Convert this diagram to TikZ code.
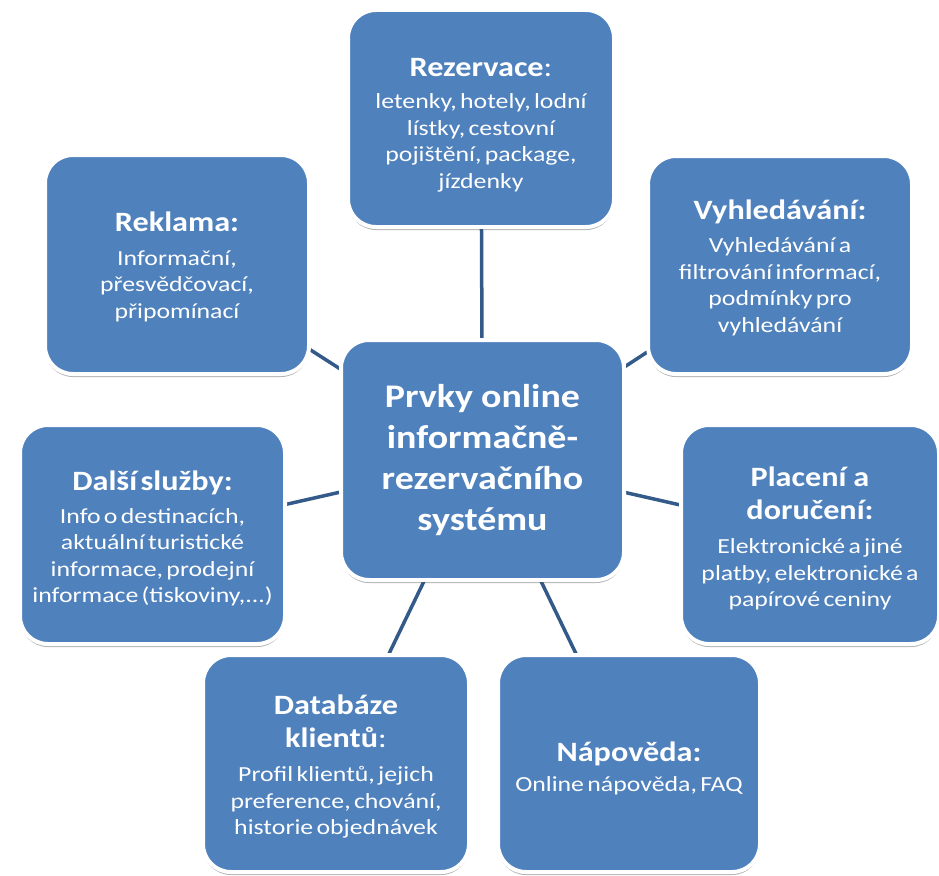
\documentclass[tikz,border=0pt]{standalone}
\usepackage{fontspec}
\newfontfamily\cfont[FakeStretch=1.15, BoldFeatures={WordSpace=2.5}]{Carlito}
\newfontfamily\cbody[FakeStretch=1.2]{Carlito}
\usetikzlibrary{shadows,backgrounds}
\definecolor{boxblue}{RGB}{79,129,189}
\definecolor{linkblue}{RGB}{52,90,138}
\newcommand\hdf{\cfont\fontsize{28}{33}\selectfont\bfseries}
\newcommand\bdf{\cbody\fontsize{21.5}{26.5}\selectfont}
\newcommand\ctf{\cfont\fontsize{33}{41}\selectfont\bfseries}
\begin{document}
\begin{tikzpicture}[x=1pt,y=-1pt,
  box/.style={draw=white, line width=4pt, fill=boxblue, rounded corners=28pt,
    text=white, align=center, text width=250pt, inner sep=0pt, font=\cfont,
    drop shadow={shadow xshift=0pt, shadow yshift=-3pt, opacity=0.3, fill=black}},
  conn/.style={draw=linkblue, line width=3.5pt}]
\useasboundingbox (0,0) rectangle (939,875);

\node[box, minimum width=283pt, minimum height=240pt] (c) at (482.5,460)
  {\ctf Prvky\hspace{8pt}online\\informačně-\\rezervačního\\systému\par};

\node[box, minimum width=266pt, minimum height=217pt] (rez) at (481,118.5)
  {{\hdf Rezervace\mdseries:\par}\vspace{6pt}{\bdf letenky, hotely, lodní\\lístky, cestovní\\pojištění, package,\\jízdenky\par}\vspace{-13pt}};

\node[box, minimum width=264pt, minimum height=219pt] (rek) at (177,264.5)
  {{\hdf Reklama:\par}\vspace{7.5pt}{\bdf Informační,\\přesvědčovací,\\připomínací\par}\vspace{-4pt}};

\node[box, minimum width=264pt, minimum height=218pt] (vyh) at (780,265)
  {{\hdf Vyhledávání:\par}\vspace{6.5pt}{\bdf Vyhledávání a\\filtrování informací,\\podmínky pro\\vyhledávání\par}\vspace{-6pt}};

\node[box, minimum width=265pt, minimum height=219pt] (dal) at (152.5,534.5)
  {{\hdf Další služby:\par}\vspace{6.5pt}{\bdf Info o destinacích,\\aktuální turistické\\informace, prodejní\\informace (tiskoviny,...)\par}\vspace{-8pt}};

\node[box, minimum width=258pt, minimum height=219pt] (pla) at (810,534.5)
  {{\hdf Placení\hspace{7pt}a\\doručení:\par}\vspace{8pt}{\bdf Elektronické a jiné\\platby, elektronické a\\papírové ceniny\par}\vspace{-8pt}};

\node[box, minimum width=266pt, minimum height=217pt] (dat) at (336,763.5)
  {{\hdf Databáze\\klientů\mdseries:\par}\vspace{8pt}{\bdf Profil klientů, jejich\\preference, chování,\\historie objednávek\par}\vspace{-6pt}};

\node[box, minimum width=262pt, minimum height=217pt] (nap) at (629,763.5)
  {{\hdf Nápověda:\par}\vspace{4pt}{\bdf Online nápověda, FAQ\par}\vspace{-10pt}};

\begin{pgfonlayer}{background}
  \fill[white] (0,0) rectangle (939,875);
  \foreach \n in {rez,rek,vyh,dal,pla,dat,nap}
    \draw[conn] (c.center) -- (\n.center);
\end{pgfonlayer}
\end{tikzpicture}
\end{document}
